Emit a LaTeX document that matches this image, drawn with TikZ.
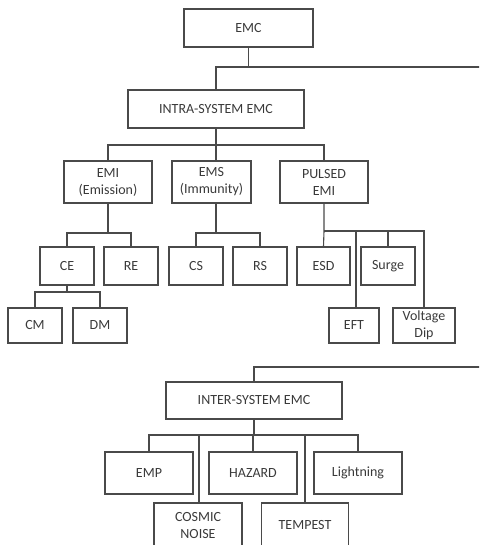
\documentclass[tikz,border=0pt]{standalone}
\usepackage{fontspec}
\setmainfont{Carlito}
\definecolor{linec}{HTML}{4A4A4A}
\definecolor{textc}{HTML}{3A3A3A}
\begin{document}
\begin{tikzpicture}[x=1pt,y=-1pt,
  box/.style={draw=linec, line width=1.1pt, rectangle, inner sep=0pt, align=center,
     text=textc, font=\fontsize{14}{17}\selectfont},
  conn/.style={draw=linec, line width=1.1pt}]
\useasboundingbox (0,0) rectangle (479,545);
\clip (0,0) rectangle (479,545);
% top level
\node[box, minimum width=129, minimum height=38] (emc) at (248.5,28) {EMC};
\node[box, minimum width=176, minimum height=38] (intra) at (216,109) {INTRA-SYSTEM EMC};
\coordinate (rA) at (481,67);
\draw[conn] (emc.south) -- (emc.south |- rA);
\draw[conn] (intra.north) |- (rA);
% second level
\node[box, minimum width=88, minimum height=42] (emi) at (108,182) {EMI\\(Emission)};
\node[box, minimum width=79, minimum height=42] (ems) at (211.5,182) {EMS\\(Immunity)};
\node[box, minimum width=88, minimum height=42] (pulsed) at (324,182) {PULSED\\EMI};
\coordinate (b1) at (0,145);
\coordinate (emsx) at (216,0);
\draw[conn] (emi.north) |- (pulsed.north |- b1) -- (pulsed.north);
\draw[conn] (intra.south) -- (intra.south |- ems.north);
% third level
\node[box, minimum width=54, minimum height=38] (ce) at (67,266) {CE};
\node[box, minimum width=54, minimum height=38] (re) at (131,266) {RE};
\node[box, minimum width=54, minimum height=38] (cs) at (196,266) {CS};
\node[box, minimum width=54, minimum height=38] (rs) at (260,266) {RS};
\node[box, minimum width=53, minimum height=38] (esd) at (323.5,266) {ESD};
\node[box, minimum width=54, minimum height=38] (surge) at (388,266) {Surge};
\node[box, minimum width=50, minimum height=35] (eft) at (354,325.5) {EFT};
\node[box, minimum width=62, minimum height=35] (vdip) at (424,325.5) {Voltage\\Dip};
\node[box, minimum width=54, minimum height=35] (cm) at (35,325.5) {CM};
\node[box, minimum width=54, minimum height=35] (dm) at (100,325.5) {DM};
\coordinate (b2) at (0,233);
\coordinate (b3) at (0,231);
\coordinate (b4) at (0,292);
\draw[conn] (emi.south) -- (emi.south |- b2);
\draw[conn] (ce.north) |- (re.north |- b2) -- (re.north);
\draw[conn] (ems.south -| emsx) -- (emsx |- b2);
\draw[conn] (cs.north) |- (rs.north |- b2) -- (rs.north);
\draw[conn] (pulsed.south) -- (pulsed.south |- b3) -- (esd.north);
\draw[conn] (pulsed.south |- b3) -- (vdip.north |- b3) -- (vdip.north);
\draw[conn] (eft.north -| 356,0) -- (356,231);
\draw[conn] (surge.north) -- (surge.north |- b3);
\draw[conn] (ce.south) -- (ce.south |- b4);
\draw[conn] (cm.north) |- (dm.north |- b4) -- (dm.north);
% inter-system
\node[box, minimum width=176, minimum height=37] (inter) at (254,400.5) {INTER-SYSTEM EMC};
\coordinate (rB) at (481,367);
\draw[conn] (inter.north) |- (rB);
\node[box, minimum width=88, minimum height=42] (emp) at (149,473) {EMP};
\node[box, minimum width=88, minimum height=42] (hazard) at (253,473) {HAZARD};
\node[box, minimum width=88, minimum height=42] (light) at (358,473) {Lightning};
\node[box, minimum width=88, minimum height=44] (cosmic) at (198,525) {COSMIC\\NOISE};
\node[box, minimum width=87, minimum height=44] (tempest) at (305,525) {TEMPEST};
\coordinate (b5) at (0,435);
\draw[conn] (inter.south) -- (inter.south |- b5);
\draw[conn] (emp.north) |- (light.north |- b5) -- (light.north);
\draw[conn] (hazard.north) -- (hazard.north |- b5);
\draw[conn] (cosmic.north -| 199,0) -- (199,435);
\draw[conn] (tempest.north) -- (tempest.north |- b5);
\end{tikzpicture}
\end{document}
